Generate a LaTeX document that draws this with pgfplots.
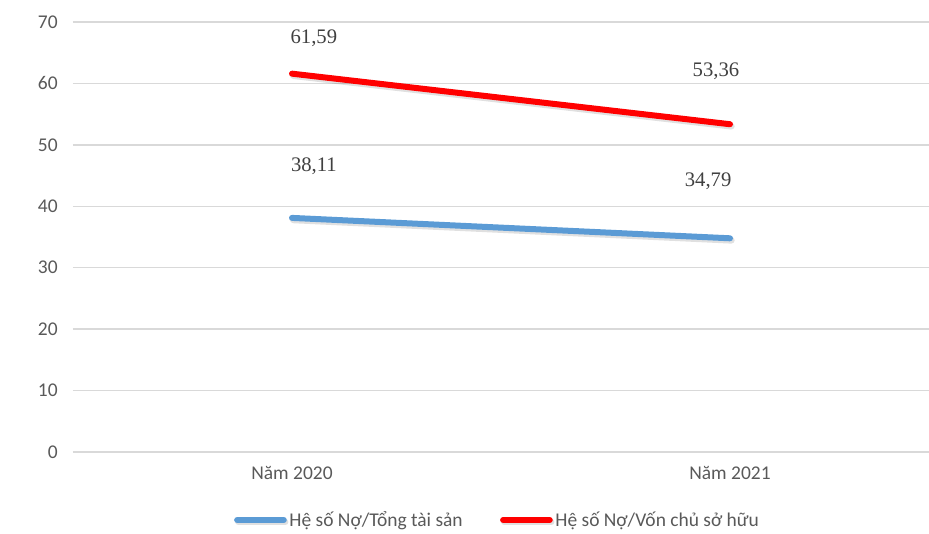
\documentclass[border=0pt]{standalone}
\usepackage{pgfplots}
\pgfplotsset{compat=1.18}
\usepackage{fontspec}
\setmainfont{Carlito}
\newfontfamily\serifnum{Liberation Serif}
\definecolor{tickgray}{HTML}{595959}
\definecolor{labgray}{HTML}{404040}
\definecolor{gridgray}{HTML}{D9D9D9}
\definecolor{xlblue}{HTML}{5B9BD5}
\definecolor{xlred}{HTML}{FF0000}
\begin{document}
\begin{tikzpicture}
\path[use as bounding box] (-54.75pt,-60.75pt) rectangle (642pt,339pt);
\begin{axis}[
  at={(0pt,0pt)}, anchor=south west,
  scale only axis,
  width=657pt, height=322.5pt,
  xmin=-0.5, xmax=1.5,
  ymin=0, ymax=70,
  ytick={0,10,...,70},
  xtick={0,1},
  xticklabels={Năm 2020, Năm 2021},
  axis line style={draw=none},
  major tick length=0pt,
  ymajorgrids,
  grid style={gridgray, line width=1pt},
  tick label style={font=\fontsize{14.6pt}{16pt}\selectfont, text=tickgray},
  /pgf/number format/assume math mode=true,
  yticklabel style={xshift=-8pt},
  xticklabel style={yshift=-7.5pt},
  clip=false,
  legend columns=2,
  legend style={draw=none, fill=none, font=\fontsize{14.6pt}{16pt}\selectfont,
    text=tickgray, at={(rel axis cs:0.485,0)}, yshift=-51pt, anchor=center,
    /tikz/every even column/.append style={column sep=26pt},
    inner sep=0pt},
  legend cell align=left,
  legend image code/.code={\draw[#1, line width=4.5pt] (0pt,0pt) -- (35pt,0pt);},
]
\addplot[xlblue, line width=4.5pt, line cap=round,
  preaction={draw=black, opacity=0.12, line width=5pt, transform canvas={xshift=1pt, yshift=-1.5pt}}]
  coordinates {(0,38.11) (1,34.79)};
\addlegendentry{Hệ số Nợ/Tổng tài sản}
\addplot[xlred, line width=4.5pt, line cap=round,
  preaction={draw=black, opacity=0.12, line width=5pt, transform canvas={xshift=1pt, yshift=-1.5pt}}]
  coordinates {(0,61.59) (1,53.36)};
\addlegendentry{Hệ số Nợ/Vốn chủ sở hữu}
\node[font=\serifnum\fontsize{15.5pt}{17pt}\selectfont, text=labgray] at (axis cs:0.050,67.4) {61,59};
\node[font=\serifnum\fontsize{15.5pt}{17pt}\selectfont, text=labgray] at (axis cs:0.968,62.0) {53,36};
\node[font=\serifnum\fontsize{15.5pt}{17pt}\selectfont, text=labgray] at (axis cs:0.050,46.6) {38,11};
\node[font=\serifnum\fontsize{15.5pt}{17pt}\selectfont, text=labgray] at (axis cs:0.950,44.0) {34,79};
\end{axis}
\end{tikzpicture}
\end{document}
